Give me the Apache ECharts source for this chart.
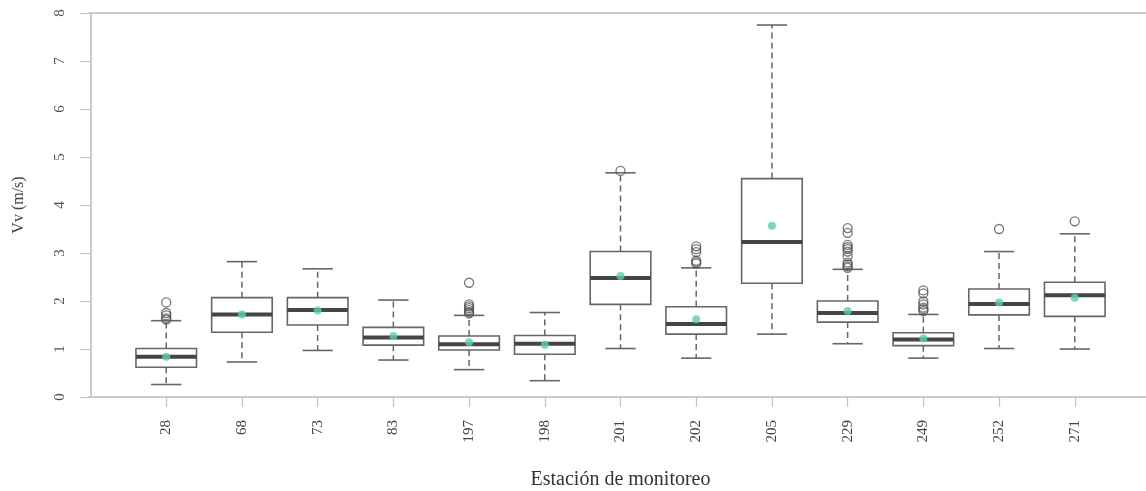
<!DOCTYPE html>
<html>
<head>
<meta charset="utf-8">
<title>Vv por estación de monitoreo</title>
<script src="https://cdn.jsdelivr.net/npm/echarts@6/dist/echarts.min.js"></script>
<style>
  html, body { margin: 0; padding: 0; background: #fff; }
  #chart { width: 1146px; height: 491px; }
</style>
</head>
<body>
<div id="chart"></div>
<script>
// Estaciones de monitoreo
const categories = ['28', '68', '73', '83', '197', '198', '201', '202', '205', '229', '249', '252', '271'];

// Resumen de cinco números de Vv (m/s) por estación
const lowWhisker  = [0.26, 0.73, 0.97, 0.77, 0.57, 0.34, 1.01, 0.81, 1.31, 1.11, 0.81, 1.01, 1.00];
const q1          = [0.62, 1.35, 1.50, 1.08, 0.98, 0.89, 1.93, 1.31, 2.37, 1.56, 1.07, 1.71, 1.68];
const medians     = [0.84, 1.72, 1.81, 1.24, 1.10, 1.11, 2.48, 1.52, 3.23, 1.75, 1.20, 1.94, 2.12];
const q3          = [1.01, 2.07, 2.07, 1.45, 1.27, 1.28, 3.03, 1.88, 4.55, 2.00, 1.34, 2.25, 2.39];
const highWhisker = [1.59, 2.82, 2.67, 2.02, 1.70, 1.76, 4.67, 2.69, 7.75, 2.66, 1.72, 3.03, 3.40];

// Media por estación
const means = [0.84, 1.72, 1.80, 1.27, 1.14, 1.09, 2.52, 1.62, 3.57, 1.79, 1.22, 1.97, 2.07];

// Valores atípicos por estación
const outliers = [
  [1.97, 1.75, 1.70, 1.64, 1.61],
  [],
  [],
  [],
  [2.38, 1.93, 1.89, 1.85, 1.81, 1.77, 1.74],
  [],
  [4.71],
  [3.14, 3.08, 3.02, 2.84, 2.81, 2.78],
  [],
  [3.52, 3.42, 3.17, 3.12, 3.08, 3.03, 2.93, 2.80, 2.76, 2.72, 2.69],
  [2.22, 2.16, 1.99, 1.93, 1.86, 1.83, 1.79],
  [3.50],
  [3.66]
];

const yTicks = [0, 1, 2, 3, 4, 5, 6, 7, 8];

const FONT = '"Liberation Serif", "DejaVu Serif", serif';
const STROKE = '#666666';
const positions = categories.map((_, k) => k + 1);

const boxData = categories.map((_, k) => [k + 1, lowWhisker[k], q1[k], medians[k], q3[k], highWhisker[k]]);
const meanData = categories.map((_, k) => [k + 1, means[k]]);
const outlierData = [];
outliers.forEach((list, k) => list.forEach(v => outlierData.push([k + 1, v])));

// Caja con bigotes discontinuos, topes sólidos y mediana gruesa
function renderBox(params, api) {
  const x = api.value(0);
  const pLo = api.coord([x, api.value(1)]);
  const pQ1 = api.coord([x, api.value(2)]);
  const pMed = api.coord([x, api.value(3)]);
  const pQ3 = api.coord([x, api.value(4)]);
  const pHi = api.coord([x, api.value(5)]);
  const cx = pMed[0];
  const halfBox = api.size([0.8, 0])[0] / 2;
  const halfCap = api.size([0.4, 0])[0] / 2;
  const dashed = { stroke: STROKE, lineWidth: 1.5, lineDash: [6, 4], fill: null };
  const solid = { stroke: STROKE, lineWidth: 1.6, fill: null };
  return {
    type: 'group',
    children: [
      { type: 'line', shape: { x1: cx, y1: pQ3[1], x2: cx, y2: pHi[1] }, style: dashed },
      { type: 'line', shape: { x1: cx, y1: pQ1[1], x2: cx, y2: pLo[1] }, style: dashed },
      { type: 'line', shape: { x1: cx - halfCap, y1: pHi[1], x2: cx + halfCap, y2: pHi[1] }, style: solid },
      { type: 'line', shape: { x1: cx - halfCap, y1: pLo[1], x2: cx + halfCap, y2: pLo[1] }, style: solid },
      { type: 'rect', shape: { x: cx - halfBox, y: pQ3[1], width: 2 * halfBox, height: pQ1[1] - pQ3[1] },
        style: { stroke: STROKE, lineWidth: 1.6, fill: '#ffffff' } },
      { type: 'line', shape: { x1: cx - halfBox, y1: pMed[1], x2: cx + halfBox, y2: pMed[1] },
        style: { stroke: '#454545', lineWidth: 4 } }
    ]
  };
}

const chart = echarts.init(document.getElementById('chart'), null, { renderer: 'canvas' });

chart.setOption({
  animation: false,
  backgroundColor: '#ffffff',
  grid: { left: 89, right: -6, top: 13, bottom: 94, containLabel: false, outerBoundsMode: 'none' },
  xAxis: [
    {
      type: 'value',
      min: -0.02,
      max: 14.02,
      position: 'bottom',
      name: 'Estación de monitoreo',
      nameLocation: 'middle',
      nameGap: 73,
      nameTextStyle: { fontFamily: FONT, fontSize: 20, color: '#333333' },
      splitLine: { show: false },
      axisLine: { show: true, lineStyle: { color: '#cccccc', width: 2 } },
      axisTick: { show: true, customValues: positions, length: 10, lineStyle: { color: '#c4c4c4', width: 1.2 } },
      axisLabel: {
        customValues: positions,
        rotate: 90,
        margin: 23,
        fontFamily: FONT,
        fontSize: 15,
        color: '#444444',
        formatter: v => categories[Math.round(v) - 1] || ''
      }
    },
    {
      type: 'value',
      min: -0.02,
      max: 14.02,
      position: 'top',
      splitLine: { show: false },
      axisLine: { show: true, lineStyle: { color: '#cccccc', width: 2 } },
      axisTick: { show: false },
      axisLabel: { show: false }
    }
  ],
  yAxis: {
    type: 'value',
    min: 0,
    max: 8,
    interval: 1,
    name: 'Vv (m/s)',
    nameLocation: 'middle',
    nameRotate: 90,
    nameGap: 62,
    nameTextStyle: { fontFamily: FONT, fontSize: 16, color: '#444444' },
    splitLine: { show: false },
    axisLine: { show: true, lineStyle: { color: '#cccccc', width: 2 } },
    axisTick: { show: true, length: 10, lineStyle: { color: '#c4c4c4', width: 1.2 } },
    axisLabel: {
      rotate: 90,
      margin: 21,
      fontFamily: FONT,
      fontSize: 15,
      color: '#555555',
      formatter: v => (yTicks.indexOf(v) >= 0 ? String(v) : '')
    }
  },
  series: [
    {
      name: 'caja',
      type: 'custom',
      renderItem: renderBox,
      encode: { x: 0, y: [1, 2, 3, 4, 5] },
      data: boxData,
      z: 2
    },
    {
      name: 'atípicos',
      type: 'scatter',
      symbol: 'circle',
      symbolSize: 9,
      itemStyle: { color: 'rgba(255,255,255,0)', borderColor: '#555555', borderWidth: 1.3 },
      data: outlierData,
      z: 3
    },
    {
      name: 'media',
      type: 'scatter',
      symbol: 'circle',
      symbolSize: 8,
      itemStyle: { color: '#5ccfa3' },
      data: meanData,
      z: 4
    }
  ]
});
</script>
</body>
</html>
